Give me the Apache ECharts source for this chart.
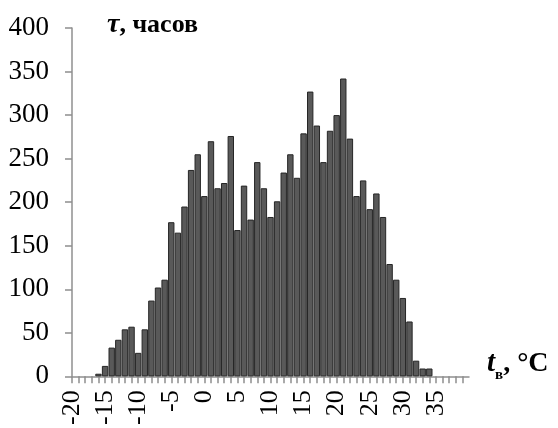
<!DOCTYPE html>
<html>
<head>
<meta charset="utf-8">
<script src="https://cdn.jsdelivr.net/npm/echarts@6/dist/echarts.min.js"></script>
<style>html,body{margin:0;padding:0;background:#fff}#c{width:558px;height:428px}</style>
</head>
<body>
<div id="c"></div>
<script>
// Temperature (°C) categories
var temps = [-20,-19,-18,-17,-16,-15,-14,-13,-12,-11,-10,-9,-8,-7,-6,-5,-4,-3,-2,-1,
  0,1,2,3,4,5,6,7,8,9,10,11,12,13,14,15,16,17,18,19,20,21,22,23,24,25,26,27,28,29,30,31,32,33,34,35];
// Hours at each temperature
var hours = [0,0,0,0,3,12,33,42,54,57,27,54,87,102,111,177,165,195,237,255,
  207,270,216,222,276,168,219,180,246,216,183,201,234,255,228,279,327,288,246,282,300,342,273,207,225,192,210,183,129,111,90,63,18,9,9,0];
var yTicks = [0,50,100,150,200,250,300,350,400];
var xLabels = [-20,-15,-10,-5,0,5,10,15,20,25,30,35];

var chart = echarts.init(document.getElementById('c'), null, {renderer:'canvas'});
var font = 'Liberation Serif';
var data = [];
temps.forEach(function(t,i){ if (hours[i] > 0) data.push([t, hours[i]]); });
chart.setOption({
  animation:false,
  grid:{left:72, right:89, top:28, bottom:50},
  title:[
    {left:102, top:6, text:'{i|τ}{b|, часов}',
     textStyle:{rich:{
       i:{fontFamily:font, fontSize:28, fontWeight:'bold', fontStyle:'italic', color:'#000'},
       b:{fontFamily:font, fontSize:26, fontWeight:'bold', color:'#000'}}}},
    {left:482, top:344, text:'{t|t}{s|в}{r|, °C}',
     textStyle:{rich:{
       t:{fontFamily:font, fontSize:29, fontWeight:'bold', fontStyle:'italic', color:'#000', verticalAlign:'bottom'},
       s:{fontFamily:font, fontSize:15, fontWeight:'bold', color:'#000', verticalAlign:'bottom', padding:[0,0,-5,0]},
       r:{fontFamily:font, fontSize:28, fontWeight:'bold', color:'#000', verticalAlign:'bottom'}}}}
  ],
  xAxis:{
    type:'value', min:-20, max:40, interval:1,
    axisLine:{show:true, onZero:false, lineStyle:{color:'#8f8f8f', width:1.5}},
    axisTick:{show:true, length:7, lineStyle:{color:'#8f8f8f', width:1.5}},
    splitLine:{show:false},
    axisLabel:{rotate:90, margin:14, fontFamily:font, fontSize:26, color:'#000',
      showMaxLabel:false,
      formatter:function(v){return xLabels.indexOf(v)>=0 ? String(v) : '';}}
  },
  yAxis:{
    type:'value', min:0, max:400, interval:50,
    axisLine:{show:true, onZero:false, lineStyle:{color:'#8f8f8f', width:1.5}},
    axisTick:{show:true, length:7, lineStyle:{color:'#8f8f8f', width:1.5}},
    splitLine:{show:false},
    axisLabel:{margin:23, fontFamily:font, fontSize:27, color:'#000',
      formatter:function(v){return yTicks.indexOf(v)>=0 ? String(v) : '';}}
  },
  series:[{
    type:'bar', data:data, barWidth:6.4,
    itemStyle:{color:'#595959', borderColor:'#262626', borderWidth:1}
  }]
});
</script>
</body>
</html>
